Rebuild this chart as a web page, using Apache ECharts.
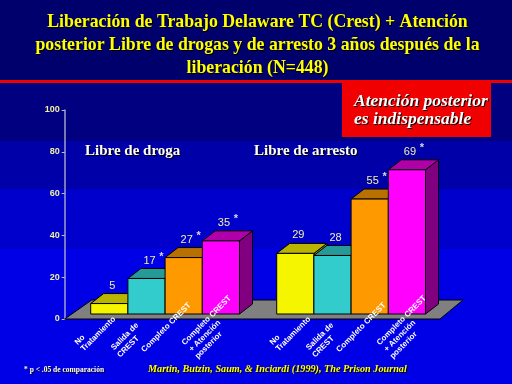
<!DOCTYPE html>
<html><head><meta charset="utf-8">
<style>html,body{margin:0;padding:0;background:#0000e0}#c{width:512px;height:384px}</style>
<script src="https://cdn.jsdelivr.net/npm/echarts@6/dist/echarts.min.js"></script>
</head><body><div id="c"></div>
<script>
const titleText = 'Liberación de Trabajo Delaware TC (Crest) + Atención\nposterior Libre de drogas y de arresto 3 años después de la\nliberación (N=448)';
const categories = ['No\nTratamiento', 'Salida de\nCREST', 'Completo CREST', 'Completo CREST\n+ Atención\nposterior'];
const drugFree = [5, 17, 27, 35];
const drugStars = [false, true, true, true];
const arrestFree = [29, 28, 55, 69];
const arrestStars = [false, false, true, true];
const yTicks = [0, 20, 40, 60, 80, 100];

const front = ['#f5f500', '#33cccc', '#ff9900', '#ff00ff'];
const topC = ['#b8b400', '#269999', '#b87000', '#b000a8'];
const sideC = ['#8a8a00', '#1a7a7a', '#8a5400', '#800080'];
const slots = [0, 1, 2, 3, 4, 5, 6, 7, 8];
const DX = 13, DY = -10, LIFT = 5;
// centre of each label line relative to the bar's foot on the axis
const lineNudge = [
  [[-29.4, 21], [-11, 15]],
  [[-21.6, 17.5], [-18.3, 27.7]],
  [[-17.5, 8.5]],
  [[-14.3, 1.5], [-16, 17], [-12.3, 26.3]]
];
const secondGroupShift = 9;

function row(values, stars, start) {
  return values.map((v, i) => [start + i, v, i, stars[i] ? 1 : 0]);
}
const data = row(drugFree, drugStars, 0).concat(row(arrestFree, arrestStars, 5));

function renderBar(params, api) {
  const x = api.value(0), v = api.value(1), k = api.value(2);
  const base = api.coord([x, 0]);
  const top = api.coord([x, v]);
  const w = api.size([1, 0])[0];
  const l = base[0] - w / 2, r = base[0] + w / 2, b = base[1] - LIFT, t = top[1] - LIFT;
  const line = { stroke: '#000', lineWidth: 1 };
  const kids = [
    { type: 'polygon', shape: { points: [[r, t], [r + DX, t + DY], [r + DX, b + DY], [r, b]] }, style: { fill: sideC[k], ...line } },
    { type: 'polygon', shape: { points: [[l, t], [l + DX, t + DY], [r + DX, t + DY], [r, t]] }, style: { fill: topC[k], ...line } },
    { type: 'rect', shape: { x: l, y: t, width: w, height: b - t }, style: { fill: front[k], ...line } }
  ];
  return { type: 'group', children: kids };
}
function renderValue(params, api) {
  const x = api.value(0), v = api.value(1), star = api.value(3);
  const top = api.coord([x, v]);
  const cx = top[0] + 3, cy = top[1] - LIFT - 18;
  const kids = [{ type: 'text', x: cx, y: cy, style: { text: String(v), align: 'center', verticalAlign: 'middle', fill: '#f2f2a8', font: '11px "Liberation Sans"' } }];
  if (star) kids.push({ type: 'text', x: cx + 12, y: cy - 4, style: { text: '*', align: 'center', verticalAlign: 'middle', fill: '#d8d8e8', font: 'bold 11px "Liberation Sans"' } });
  return { type: 'group', children: kids };
}
function renderCat(params, api) {
  const x = api.value(0), k = api.value(2);
  const base = api.coord([x, 0]);
  const shift = x > 4 ? secondGroupShift : 0;
  const kids = categories[k].split('\n').map((txt, n) => ({
    type: 'text', x: base[0] + shift + lineNudge[k][n][0], y: base[1] + lineNudge[k][n][1], rotation: Math.PI / 4,
    style: { text: txt, align: 'center', verticalAlign: 'middle', fill: '#fff', font: 'bold 8px "Liberation Sans"' }
  }));
  return { type: 'group', children: kids };
}
function renderFloor(params, api) {
  const a = api.coord([0, 0]), w = api.size([1, 0])[0];
  const left = a[0] - w / 2 - 26, right = a[0] - w / 2 + 9 * w + 14.5, y = a[1];
  return { type: 'polygon', shape: { points: [[left, y], [left + 27, y - 19], [right + 23, y - 19], [right, y]] },
    style: { fill: '#808080', stroke: '#000', lineWidth: 1 } };
}
const band = (y, h, c) => ({ type: 'rect', z: -10, silent: true, shape: { x: 0, y, width: 512, height: h }, style: { fill: c } });
const shadow = { textShadowColor: '#000', textShadowBlur: 0.6, textShadowOffsetX: 1, textShadowOffsetY: 1 };

const chart = echarts.init(document.getElementById('c'), null, { renderer: 'canvas' });
chart.setOption({
  animation: false,
  backgroundColor: '#0000e0',
  title: [
    { text: titleText, left: 252.5, top: 6, textAlign: 'center', textStyle: { color: '#ffff00', fontFamily: 'Liberation Serif', fontWeight: 'bold', fontSize: 17.8, lineHeight: 23, ...shadow } }
  ],
  grid: { left: 90.7, top: 110, width: 334.8, height: 209, containLabel: false },
  xAxis: { type: 'category', data: slots, boundaryGap: true, axisLine: { show: false }, axisTick: { show: false }, axisLabel: { show: false } },
  yAxis: { type: 'value', min: 0, max: 100, interval: 20, offset: 26,
    axisLine: { show: true, lineStyle: { color: '#a0a0c8', width: 1.5 } },
    axisTick: { show: true, length: 3, lineStyle: { color: '#c0c0d0' } },
    splitLine: { show: false },
    axisLabel: { color: '#f0f0a0', fontFamily: 'Liberation Sans', fontWeight: 'bold', fontSize: 9, margin: 5, formatter: v => yTicks.includes(v) ? String(v) : '' } },
  graphic: [
    band(0, 80, '#00006c'), band(83, 58, '#000080'), band(141, 48, '#0000a8'), band(189, 60, '#0000cc'), band(249, 135, '#0000e6'),
    { type: 'rect', z: 1, silent: true, shape: { x: 0, y: 80, width: 512, height: 3 }, style: { fill: '#f00000' } },
    { type: 'rect', z: 1, silent: true, shape: { x: 342, y: 83, width: 149, height: 54 }, style: { fill: '#f00000' } },
    { type: 'text', z: 2, x: 354, y: 92, style: { text: 'Atención posterior\nes indispensable', fill: '#fff', font: 'italic bold 17.5px "Liberation Serif"', lineHeight: 18, ...shadow } },
    { type: 'text', z: 20, x: 85, y: 143.5, style: { text: 'Libre de droga', fill: '#fff', font: 'bold 15px "Liberation Serif"', ...shadow } },
    { type: 'text', z: 20, x: 254, y: 143.5, style: { text: 'Libre de arresto', fill: '#fff', font: 'bold 15px "Liberation Serif"', ...shadow } },
    { type: 'text', z: 20, x: 24, y: 366, style: { text: '* p < .05 de comparación', fill: '#fff', font: 'bold 7.5px "Liberation Serif"', ...shadow } },
    { type: 'text', z: 20, x: 148, y: 364, style: { text: 'Martin, Butzin, Saum, & Inciardi (1999), The Prison Journal', fill: '#ffff00', font: 'italic bold 10.2px "Liberation Serif"', ...shadow } }
  ],
  series: [
    { type: 'custom', z: 2, renderItem: renderFloor, data: [[0, 0]], silent: true, clip: false },
    { type: 'custom', z: 3, renderItem: renderBar, data, clip: false, encode: { x: 0, y: 1 } },
    { type: 'custom', z: 5, renderItem: renderValue, data, clip: false, encode: { x: 0, y: 1 } },
    { type: 'custom', z: 6, renderItem: renderCat, data, clip: false, encode: { x: 0, y: 1 } }
  ]
});
</script></body></html>
